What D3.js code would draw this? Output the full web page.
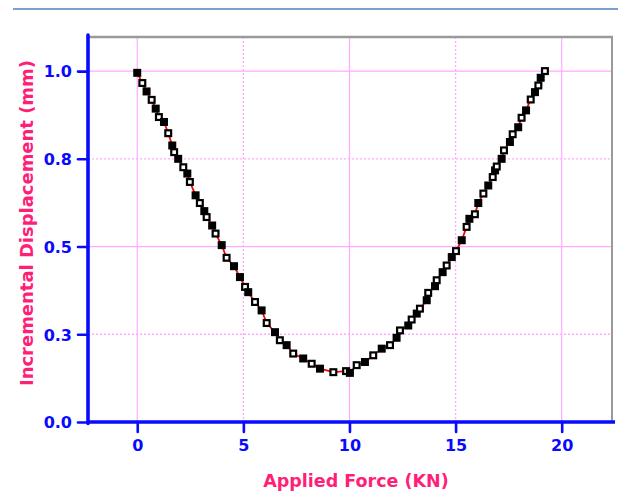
<!DOCTYPE html>
<html>
<head>
<meta charset="utf-8">
<script src="https://cdn.jsdelivr.net/npm/d3@7"></script>
<style>
  html, body { margin: 0; padding: 0; background: #ffffff; }
  svg { display: block; }
</style>
</head>
<body>
<svg id="chart" width="618" height="500"></svg>
<script>
// ---- data ----
const filledX = [0.00, 0.44, 0.87, 1.26, 1.65, 1.93, 2.36, 2.75, 3.16, 3.53, 3.98, 4.56, 4.84, 5.23, 5.86, 6.49, 7.04, 7.82, 8.61, 10.02, 10.73, 11.52, 12.22, 12.77, 13.17, 13.64, 14.03, 14.39, 14.82, 15.29, 15.65, 16.07, 16.54, 16.86, 17.17, 17.56, 17.95, 18.32, 18.74, 19.01];
const filledY = [0.995, 0.942, 0.893, 0.855, 0.788, 0.750, 0.708, 0.646, 0.601, 0.560, 0.504, 0.444, 0.413, 0.370, 0.318, 0.256, 0.219, 0.181, 0.152, 0.140, 0.171, 0.209, 0.240, 0.275, 0.309, 0.347, 0.387, 0.427, 0.470, 0.518, 0.579, 0.624, 0.674, 0.717, 0.750, 0.798, 0.840, 0.888, 0.940, 0.981];
const openX = [0.24, 0.68, 1.02, 1.46, 1.74, 2.17, 2.48, 2.95, 3.27, 3.69, 4.21, 5.08, 5.55, 6.10, 6.72, 7.35, 8.22, 9.24, 9.84, 10.34, 11.12, 11.91, 12.38, 12.93, 13.32, 13.71, 14.11, 14.58, 15.02, 15.52, 15.91, 16.31, 16.75, 16.94, 17.28, 17.69, 18.11, 18.54, 18.90, 19.21];
const openY = [0.966, 0.918, 0.869, 0.823, 0.769, 0.726, 0.684, 0.624, 0.584, 0.537, 0.468, 0.385, 0.342, 0.282, 0.233, 0.195, 0.166, 0.142, 0.145, 0.162, 0.190, 0.219, 0.261, 0.292, 0.323, 0.368, 0.404, 0.446, 0.487, 0.556, 0.592, 0.651, 0.698, 0.728, 0.774, 0.820, 0.867, 0.919, 0.959, 1.000];

const xTicks = [0, 5, 10, 15, 20];
const xTickLabels = ["0", "5", "10", "15", "20"];
const yTicks = [0, 0.25, 0.5, 0.75, 1.0];
const yTickLabels = ["0.0", "0.3", "0.5", "0.8", "1.0"];
const xMajorGrid = [0, 10, 20];
const xMinorGrid = [5, 15];
const yMajorGrid = [0.5, 1.0];
const yMinorGrid = [0.25, 0.75];

const xTitle = "Applied Force (KN)";
const yTitle = "Incremental Displacement (mm)";

// ---- layout ----
const L = 88, R = 612, T = 37, B = 422;
const svg = d3.select("#chart");

const x = d3.scaleLinear().domain([-2.32, 22.37]).range([L, R]);
const y = d3.scaleLinear().domain([0, 1.1]).range([B, T - 1]);

const BLUE = "#0a0aff";
const PINK = "#ff1f78";
const GRID = "#ffaaff";

// top decorative rule
svg.append("line")
  .attr("x1", 13).attr("x2", 618).attr("y1", 9).attr("y2", 9)
  .attr("stroke", "#4f81bd").attr("stroke-width", 1.6);

// grid
const g = svg.append("g");
g.selectAll(".vmaj").data(xMajorGrid).join("line")
  .attr("x1", d => x(d)).attr("x2", d => x(d)).attr("y1", T).attr("y2", B)
  .attr("stroke", GRID).attr("stroke-width", 1.2);
g.selectAll(".vmin").data(xMinorGrid).join("line")
  .attr("x1", d => x(d)).attr("x2", d => x(d)).attr("y1", T).attr("y2", B)
  .attr("stroke", GRID).attr("stroke-width", 1.3).attr("stroke-dasharray", "2,2");
g.selectAll(".hmaj").data(yMajorGrid).join("line")
  .attr("x1", L).attr("x2", R).attr("y1", d => y(d)).attr("y2", d => y(d))
  .attr("stroke", GRID).attr("stroke-width", 1.2);
g.selectAll(".hmin").data(yMinorGrid).join("line")
  .attr("x1", L).attr("x2", R).attr("y1", d => y(d)).attr("y2", d => y(d))
  .attr("stroke", GRID).attr("stroke-width", 1.3).attr("stroke-dasharray", "2,2");

// frame top/right
svg.append("line").attr("x1", L).attr("x2", R + 1).attr("y1", T).attr("y2", T)
  .attr("stroke", "#9a9a9a").attr("stroke-width", 2.5);
svg.append("line").attr("x1", R).attr("x2", R).attr("y1", T).attr("y2", B)
  .attr("stroke", "#9a9a9a").attr("stroke-width", 2);

// data
const pts = filledX.map((v, i) => ({x: v, y: filledY[i], open: false}))
  .concat(openX.map((v, i) => ({x: v, y: openY[i], open: true})))
  .sort((a, b) => a.x - b.x);

svg.append("path").datum(pts)
  .attr("d", d3.line().x(d => x(d.x)).y(d => y(d.y)))
  .attr("fill", "none").attr("stroke", "#ff0000").attr("stroke-width", 1.8);

const S = 8;
svg.append("g").selectAll("rect").data(pts).join("rect")
  .attr("x", d => x(d.x) - S / 2 + (d.open ? 1.1 : 0))
  .attr("y", d => y(d.y) - S / 2 + (d.open ? 1.1 : 0))
  .attr("width", d => d.open ? S - 2.2 : S)
  .attr("height", d => d.open ? S - 2.2 : S)
  .attr("fill", d => d.open ? "#ffffff" : "#000000")
  .attr("stroke", d => d.open ? "#000000" : "none")
  .attr("stroke-width", 2.2);

// axes
const xAxis = d3.axisBottom(x).tickValues(xTicks).tickSize(10)
  .tickFormat((d, i) => xTickLabels[i]);
const yAxis = d3.axisLeft(y).tickValues(yTicks).tickSize(10)
  .tickFormat((d, i) => yTickLabels[i]);

const gx = svg.append("g").attr("transform", `translate(0,${B})`).call(xAxis);
const gy = svg.append("g").attr("transform", `translate(${L},0)`).call(yAxis);

[gx, gy].forEach(ax => {
  ax.select(".domain").remove();
  ax.selectAll(".tick line").attr("stroke", BLUE).attr("stroke-width", 2.6)
    .attr("stroke-linecap", "round");
  ax.selectAll(".tick text")
    .attr("fill", BLUE)
    .style("font-family", "'DejaVu Sans', sans-serif")
    .style("font-weight", "bold")
    .style("font-size", "16px");
});
gx.selectAll(".tick text").attr("y", 0).attr("dy", "29px");
gy.selectAll(".tick text").attr("x", -16).attr("dy", "0.36em");

// axis lines
svg.append("line").attr("x1", L - 1).attr("x2", R + 3).attr("y1", B).attr("y2", B)
  .attr("stroke", BLUE).attr("stroke-width", 3.6);
svg.append("line").attr("x1", L).attr("x2", L).attr("y1", T - 2).attr("y2", B + 1.5)
  .attr("stroke", BLUE).attr("stroke-width", 3.6).attr("stroke-linecap", "round");

// titles
svg.append("text")
  .attr("x", 356).attr("y", 487)
  .attr("text-anchor", "middle")
  .attr("fill", PINK)
  .style("font-family", "'DejaVu Sans', sans-serif")
  .style("font-weight", "bold")
  .style("font-size", "17.5px")
  .text(xTitle);

svg.append("text")
  .attr("transform", "translate(33,223) rotate(-90)")
  .attr("text-anchor", "middle")
  .attr("fill", PINK)
  .style("font-family", "'DejaVu Sans', sans-serif")
  .style("font-weight", "bold")
  .style("font-size", "18px")
  .attr("textLength", 326)
  .attr("lengthAdjust", "spacingAndGlyphs")
  .text(yTitle);
</script>
</body>
</html>
